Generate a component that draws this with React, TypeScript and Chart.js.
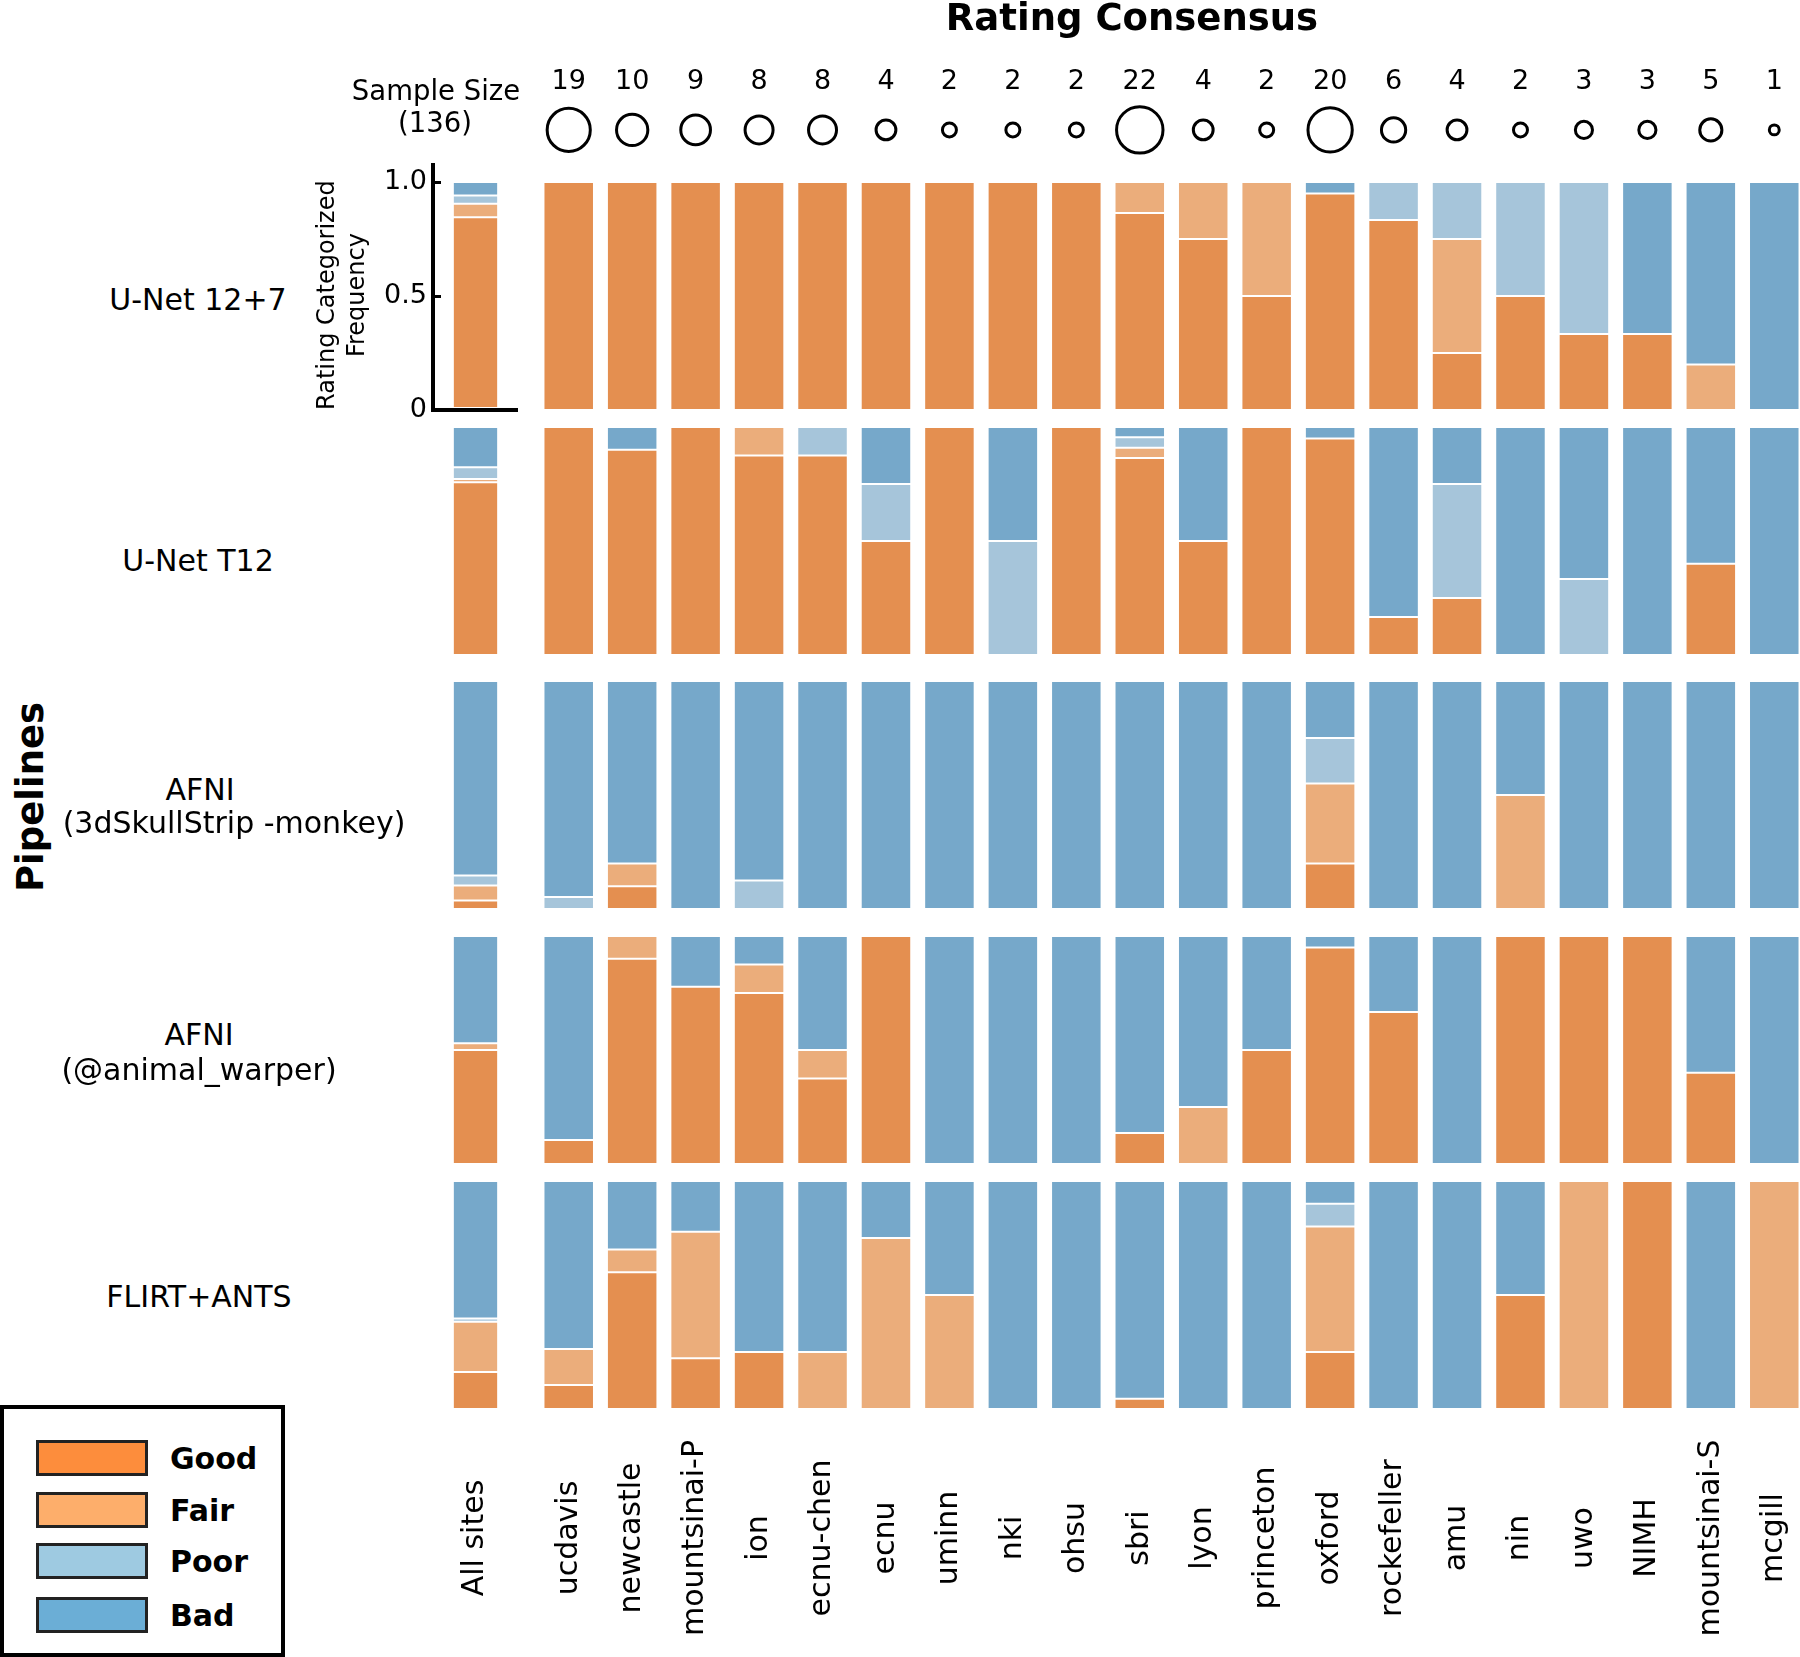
import React, { useEffect, useRef } from 'react';
import { Chart, registerables } from 'chart.js';

Chart.register(...registerables);
Chart.defaults.font.family = '"DejaVu Sans", sans-serif';
Chart.defaults.color = '#000';

// ---------------- data ----------------
const SITES = ['ucdavis', 'newcastle', 'mountsinai-P', 'ion', 'ecnu-chen', 'ecnu', 'uminn', 'nki', 'ohsu', 'sbri', 'lyon', 'princeton', 'oxford', 'rockefeller', 'amu', 'nin', 'uwo', 'NIMH', 'mountsinai-S', 'mcgill'];
const SAMPLE_SIZES = [19, 10, 9, 8, 8, 4, 2, 2, 2, 22, 4, 2, 20, 6, 4, 2, 3, 3, 5, 1];
const TOTAL_LABEL = 'All sites';
const RATINGS = ['Good', 'Fair', 'Poor', 'Bad'];
const Y_TICKS = [0, 0.5, 1];

// counts of sessions per rating, one row per pipeline, one column per site
const GOOD_COUNTS = [
  [19, 10, 9, 8, 8, 4, 2, 2, 2, 19, 3, 1, 19, 5, 1, 1, 1, 1, 0, 0],
  [19, 9, 9, 7, 7, 2, 2, 0, 2, 19, 2, 2, 19, 1, 1, 0, 0, 0, 2, 0],
  [0, 1, 0, 0, 0, 0, 0, 0, 0, 0, 0, 0, 4, 0, 0, 0, 0, 0, 0, 0],
  [2, 9, 7, 6, 3, 4, 0, 0, 0, 3, 0, 1, 19, 4, 0, 2, 3, 3, 2, 0],
  [2, 6, 2, 2, 0, 0, 0, 0, 0, 1, 0, 0, 5, 0, 0, 1, 0, 3, 0, 0],
];
const FAIR_COUNTS = [
  [0, 0, 0, 0, 0, 0, 0, 0, 0, 3, 1, 1, 0, 0, 2, 0, 0, 0, 1, 0],
  [0, 0, 0, 1, 0, 0, 0, 0, 0, 1, 0, 0, 0, 0, 0, 0, 0, 0, 0, 0],
  [0, 1, 0, 0, 0, 0, 0, 0, 0, 0, 0, 0, 7, 0, 0, 1, 0, 0, 0, 0],
  [0, 1, 0, 1, 1, 0, 0, 0, 0, 0, 1, 0, 0, 0, 0, 0, 0, 0, 0, 0],
  [3, 1, 5, 0, 2, 3, 1, 0, 0, 0, 0, 0, 11, 0, 0, 0, 3, 0, 0, 1],
];
const POOR_COUNTS = [
  [0, 0, 0, 0, 0, 0, 0, 0, 0, 0, 0, 0, 0, 1, 1, 1, 2, 0, 0, 0],
  [0, 0, 0, 0, 1, 1, 0, 1, 0, 1, 0, 0, 0, 0, 2, 0, 1, 0, 0, 0],
  [1, 0, 0, 1, 0, 0, 0, 0, 0, 0, 0, 0, 4, 0, 0, 0, 0, 0, 0, 0],
  [0, 0, 0, 0, 0, 0, 0, 0, 0, 0, 0, 0, 0, 0, 0, 0, 0, 0, 0, 0],
  [0, 0, 0, 0, 0, 0, 0, 0, 0, 0, 0, 0, 2, 0, 0, 0, 0, 0, 0, 0],
];
const BAD_COUNTS = [
  [0, 0, 0, 0, 0, 0, 0, 0, 0, 0, 0, 0, 1, 0, 0, 0, 0, 2, 4, 1],
  [0, 1, 0, 0, 0, 1, 0, 1, 0, 1, 2, 0, 1, 5, 1, 2, 2, 3, 3, 1],
  [18, 8, 9, 7, 8, 4, 2, 2, 2, 22, 4, 2, 5, 6, 4, 1, 3, 3, 5, 1],
  [17, 0, 2, 1, 4, 0, 2, 2, 2, 19, 3, 1, 1, 2, 4, 0, 0, 0, 3, 1],
  [14, 3, 2, 6, 6, 1, 1, 2, 2, 21, 4, 2, 2, 6, 4, 1, 0, 0, 5, 0],
];
const COUNTS_BY_RATING = [GOOD_COUNTS, FAIR_COUNTS, POOR_COUNTS, BAD_COUNTS];

// ---------------- styling / layout ----------------
const BAR_COLORS = ['#E48F50', '#EBAD7B', '#A6C5DA', '#76A8CA'];
const LEGEND_COLORS = ['#FD8D3C', '#FDAE6B', '#9ECAE1', '#6BAED6'];
const FONT = '"DejaVu Sans", sans-serif';
const W = 1800;
const H = 1657;
const PLOT_TOP = 100;
const PLOT_BOTTOM = 1420;
const ROW_TOPS = [182, 427, 681, 936, 1181];
const BAR_H = 228;
const BAND_EDGES = [165, 410, 668, 922, 1172, 1420];
const CIRCLE_Y = 0.54;
const CIRCLE_K = 4.95;
const A_LEFT = 300;
const A_WIDTH = 218;
const A_AXIS_W = 133;
const B_LEFT = 537;
const B_WIDTH = 1269;
const X_LABEL_Y = 1538;

const totalN = SAMPLE_SIZES.reduce((a, b) => a + b, 0);
const frac = (r: number, c: number) =>
  SITES.map((_, i) => {
    const v = COUNTS_BY_RATING[c][r][i] / SAMPLE_SIZES[i];
    return v > 0 ? v : null;
  });
const fracAll = (r: number, c: number) => {
  const s = COUNTS_BY_RATING[c][r].reduce((a, b) => a + b, 0);
  return [s > 0 ? s / totalN : null];
};

function rowScales() {
  const scales: any = {
    yc: {
      type: 'linear', position: 'left', stack: 'rows', weight: 6,
      stackWeight: BAND_EDGES[0] - PLOT_TOP, min: 0, max: 1, display: false,
    },
  };
  for (let r = 0; r < 5; r++) {
    const a = BAND_EDGES[r];
    const b = BAND_EDGES[r + 1];
    const top = ROW_TOPS[r];
    const bot = top + BAR_H;
    scales['y' + (r + 1)] = {
      type: 'linear', position: 'left', stack: 'rows', weight: 5 - r,
      stackWeight: b - a, stacked: true,
      min: -(b - bot) / BAR_H, max: 1 + (top - a) / BAR_H, display: false,
    };
  }
  return scales;
}

function xScales(labelsTop: string[]) {
  return {
    x: {
      type: 'category', position: 'bottom', offset: true, stacked: true,
      ticks: { display: false }, grid: { display: false }, border: { display: false },
      afterFit: (s: any) => { s.height = H - PLOT_BOTTOM; s.paddingLeft = 0; s.paddingRight = 0; },
    },
    xTop: {
      type: 'category', position: 'top', offset: true, labels: labelsTop,
      grid: { display: false, drawTicks: false }, border: { display: false },
      ticks: { font: { size: 27 }, color: '#000', padding: 2, autoSkip: false, maxRotation: 0, minRotation: 0 },
      afterFit: (s: any) => { s.height = PLOT_TOP; s.paddingLeft = 0; s.paddingRight = 0; },
    },
  };
}

const bottomLabels = {
  id: 'bottomLabels',
  afterDraw(chart: any) {
    const s = chart.scales.x;
    const ctx = chart.ctx;
    ctx.save();
    ctx.font = `30px ${FONT}`;
    ctx.fillStyle = '#000';
    ctx.textAlign = 'center';
    ctx.textBaseline = 'middle';
    (chart.data.labels as string[]).forEach((lab, i) => {
      const x = s.getPixelForTick(i);
      ctx.save();
      ctx.translate(x, X_LABEL_Y);
      ctx.rotate(-Math.PI / 2);
      ctx.fillText(lab, 0, 0);
      ctx.restore();
    });
    ctx.restore();
  },
};

const barStyle = {
  borderColor: 'rgba(255,255,255,0.7)',
  borderWidth: 1,
  borderSkipped: false,
  categoryPercentage: 1,
  grouped: false,
};

function Text({ text, cx, baseline, size, bold }: { text: string; cx: number; baseline: number; size: number; bold?: boolean }) {
  return (
    <div style={{
      position: 'absolute', left: cx, top: baseline - 0.846 * size, transform: 'translateX(-50%)',
      whiteSpace: 'pre', fontFamily: FONT, fontSize: size, lineHeight: `${size}px`,
      fontWeight: bold ? 'bold' : 'normal', color: '#000',
    }}>{text}</div>
  );
}

const PIPELINE_LINES = [
  [{ t: 'U-Net 12+7', x: 198, b: 310 }],
  [{ t: 'U-Net T12', x: 198, b: 571 }],
  [{ t: 'AFNI', x: 200, b: 800 }, { t: '(3dSkullStrip -monkey)', x: 234, b: 833 }],
  [{ t: 'AFNI', x: 199, b: 1045 }, { t: '(@animal_warper)', x: 199, b: 1080 }],
  [{ t: 'FLIRT+ANTS', x: 199, b: 1307 }],
];

export default function App() {
  const refA = useRef<HTMLCanvasElement | null>(null);
  const refB = useRef<HTMLCanvasElement | null>(null);

  useEffect(() => {
    const dsA: any[] = [];
    const dsB: any[] = [];
    for (let r = 0; r < 5; r++) {
      for (let c = 0; c < 4; c++) {
        dsA.push({
          type: 'bar', label: RATINGS[c], data: fracAll(r, c), backgroundColor: BAR_COLORS[c],
          xAxisID: 'x', yAxisID: 'y' + (r + 1), barPercentage: 0.533, ...barStyle,
        });
        dsB.push({
          type: 'bar', label: RATINGS[c], data: frac(r, c), backgroundColor: BAR_COLORS[c],
          xAxisID: 'x', yAxisID: 'y' + (r + 1), barPercentage: 0.796, ...barStyle,
        });
      }
    }
    dsB.push({
      type: 'scatter', label: 'Sample size',
      data: SITES.map((s) => ({ x: s, y: CIRCLE_Y })),
      xAxisID: 'x', yAxisID: 'yc',
      pointRadius: SAMPLE_SIZES.map((n) => CIRCLE_K * Math.sqrt(n)),
      pointBorderWidth: 3, pointBorderColor: '#000', pointBackgroundColor: 'rgba(0,0,0,0)',
      showLine: false, clip: false,
    });

    const scalesA: any = { ...xScales(['']), ...rowScales() };
    scalesA.xTop.ticks.display = false;
    scalesA.y1 = {
      ...scalesA.y1,
      display: true,
      border: { display: true, color: '#000', width: 4 },
      grid: {
        display: true, drawOnChartArea: true, drawTicks: true, tickLength: -8, tickWidth: 3, tickColor: '#000',
        color: (c: any) => (c.tick && c.tick.value === 0 ? '#000' : 'rgba(0,0,0,0)'),
        lineWidth: (c: any) => (c.tick && c.tick.value === 0 ? 4 : 1),
      },
      ticks: {
        font: { size: 27 }, color: '#000', padding: 14,
        callback: (v: any) => (Number(v) === 0 ? '0' : Number(v).toFixed(1)),
      },
      afterBuildTicks: (s: any) => { s.ticks = Y_TICKS.map((v) => ({ value: v })); },
      title: {
        display: true, text: ['Rating Categorized  ', 'Frequency  '], color: '#000',
        font: { size: 24, lineHeight: 1.26 }, padding: { top: 12.6, bottom: 0 },
      },
      afterFit: (s: any) => { s.width = A_AXIS_W; },
    };

    const common: any = {
      responsive: false, maintainAspectRatio: false, animation: false, devicePixelRatio: 1,
      layout: { padding: 0, autoPadding: false },
      plugins: { legend: { display: false }, tooltip: { enabled: false }, title: { display: false } },
      events: [],
    };

    const chartA = new Chart(refA.current as HTMLCanvasElement, {
      type: 'bar',
      data: { labels: [TOTAL_LABEL], datasets: dsA },
      options: { ...common, scales: scalesA },
      plugins: [bottomLabels],
    } as any);

    const chartB = new Chart(refB.current as HTMLCanvasElement, {
      type: 'bar',
      data: { labels: SITES, datasets: dsB },
      options: { ...common, scales: { ...xScales(SAMPLE_SIZES.map(String)), ...rowScales() } },
      plugins: [bottomLabels],
    } as any);

    return () => { chartA.destroy(); chartB.destroy(); };
  }, []);

  return (
    <div style={{ position: 'absolute', left: 0, top: 0, width: W, height: H, overflow: 'hidden', background: '#fff' }}>
      <canvas ref={refA} width={A_WIDTH} height={H}
        style={{ position: 'absolute', left: A_LEFT, top: 0, width: A_WIDTH, height: H }} />
      <canvas ref={refB} width={B_WIDTH} height={H}
        style={{ position: 'absolute', left: B_LEFT, top: 0, width: B_WIDTH, height: H }} />

      <Text text="Rating Consensus" cx={1132} baseline={30.7} size={37} bold />
      <Text text="Sample Size" cx={436} baseline={100} size={27.5} />
      <Text text={`(${totalN})`} cx={435} baseline={132} size={27.5} />

      {PIPELINE_LINES.map((lines, i) =>
        lines.map((l, j) => <Text key={`${i}-${j}`} text={l.t} cx={l.x} baseline={l.b} size={30} />)
      )}

      <div style={{
        position: 'absolute', left: 30, top: 797, transform: 'translate(-50%, -50%) rotate(-90deg)',
        fontFamily: FONT, fontWeight: 'bold', fontSize: 37, lineHeight: '37px', whiteSpace: 'nowrap', color: '#000',
      }}>Pipelines</div>

      <div style={{
        position: 'absolute', left: 0, top: 1405, width: 285, height: 252,
        border: '4px solid #000', boxSizing: 'border-box', background: '#fff',
      }} />
      {RATINGS.map((r, i) => {
        const tops = [1440, 1492, 1543, 1597];
        return (
          <React.Fragment key={r}>
            <div style={{
              position: 'absolute', left: 36, top: tops[i], width: 112, height: 36,
              background: LEGEND_COLORS[i], border: '3px solid #222', boxSizing: 'border-box',
            }} />
            <div style={{
              position: 'absolute', left: 170, top: tops[i] + 18 + 11 - 0.846 * 30,
              fontFamily: FONT, fontWeight: 'bold', fontSize: 30, lineHeight: '30px', color: '#000',
            }}>{r}</div>
          </React.Fragment>
        );
      })}
    </div>
  );
}
